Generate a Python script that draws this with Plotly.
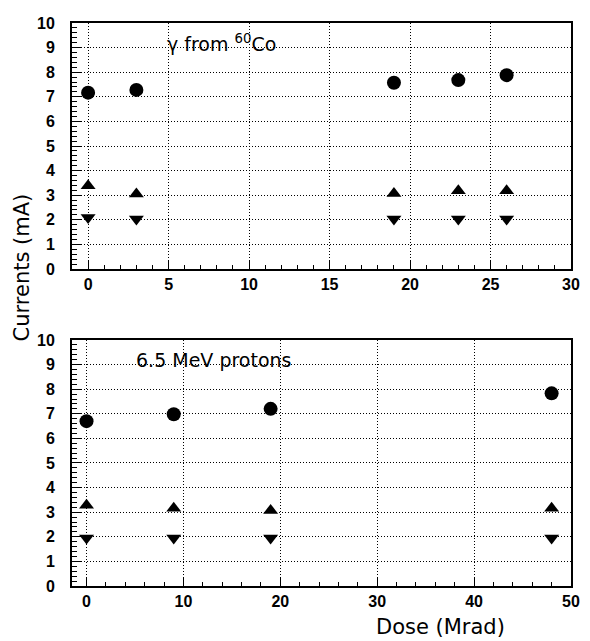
import plotly.graph_objects as go
from plotly.subplots import make_subplots

# gamma irradiation (60Co)
dose_gamma = [0, 3, 19, 23, 26]
circ_gamma = [7.17, 7.28, 7.57, 7.68, 7.88]
up_gamma = [3.38, 3.05, 3.07, 3.18, 3.18]
down_gamma = [2.09, 2.03, 2.03, 2.03, 2.03]

# 6.5 MeV protons
dose_prot = [0, 9, 19, 48]
circ_prot = [6.70, 6.98, 7.2, 7.83]
up_prot = [3.28, 3.16, 3.07, 3.16]
down_prot = [1.95, 1.95, 1.95, 1.95]

FONT = "DejaVu Sans, Arial, sans-serif"
TICKFONT = dict(family="Liberation Sans, Arial, sans-serif", size=16, color="black", weight="bold")

fig = make_subplots(rows=2, cols=1, vertical_spacing=0.126)

def add_set(x, c, u, d, row):
    fig.add_trace(go.Scatter(x=x, y=c, mode="markers",
                             marker=dict(symbol="circle", size=14, color="black")),
                  row=row, col=1)
    fig.add_trace(go.Scatter(x=x, y=u, mode="markers",
                             marker=dict(symbol="triangle-up", size=13, color="black")),
                  row=row, col=1)
    fig.add_trace(go.Scatter(x=x, y=d, mode="markers",
                             marker=dict(symbol="triangle-down", size=13, color="black")),
                  row=row, col=1)

add_set(dose_gamma, circ_gamma, up_gamma, down_gamma, 1)
add_set(dose_prot, circ_prot, up_prot, down_prot, 2)

axis_common = dict(showline=True, linecolor="black", linewidth=2, mirror=True,
                   showgrid=True, gridcolor="black", gridwidth=1, griddash="1px,2px",
                   zeroline=False, ticks="inside", tickcolor="black", tickwidth=1,
                   tickfont=TICKFONT)

fig.update_xaxes(**axis_common, range=[-1, 30], dtick=5, tick0=0, ticklen=8,
                 minor=dict(dtick=1, ticks="inside", ticklen=4, tickcolor="black", showgrid=False),
                 row=1, col=1)
fig.update_xaxes(**axis_common, range=[-1.5, 50], dtick=10, tick0=0, ticklen=8,
                 minor=dict(dtick=2, ticks="inside", ticklen=4, tickcolor="black", showgrid=False),
                 row=2, col=1)
fig.update_yaxes(**axis_common, range=[0, 10], dtick=1, ticklen=9, ticklabelstandoff=12,
                 minor=dict(dtick=0.2, ticks="inside", ticklen=5, tickcolor="black", showgrid=False))

fig.update_layout(
    width=582, height=633,
    margin=dict(l=64, r=19, t=7, b=55),
    paper_bgcolor="white", plot_bgcolor="white",
    showlegend=False,
    font=dict(family=FONT, color="black"),
    annotations=[
        dict(text="γ from <sup>60</sup>Co", x=4.8, y=9.2, xref="x", yref="y",
             xanchor="left", yanchor="middle", showarrow=False,
             font=dict(family=FONT, size=19, color="black")),
        dict(text="6.5 MeV protons", x=4.9, y=9.2, xref="x2", yref="y2",
             xanchor="left", yanchor="middle", showarrow=False,
             font=dict(family=FONT, size=19, color="black")),
        dict(text="Currents (mA)", x=-0.100, y=0.566, xref="paper", yref="paper",
             textangle=-90, xanchor="center", yanchor="middle", showarrow=False,
             font=dict(family=FONT, size=21, color="black")),
        dict(text="Dose (Mrad)", x=0.739, y=-0.0736, xref="paper", yref="paper",
             xanchor="center", yanchor="middle", showarrow=False,
             font=dict(family=FONT, size=21, color="black")),
    ],
)

fig.write_html("out.html")
